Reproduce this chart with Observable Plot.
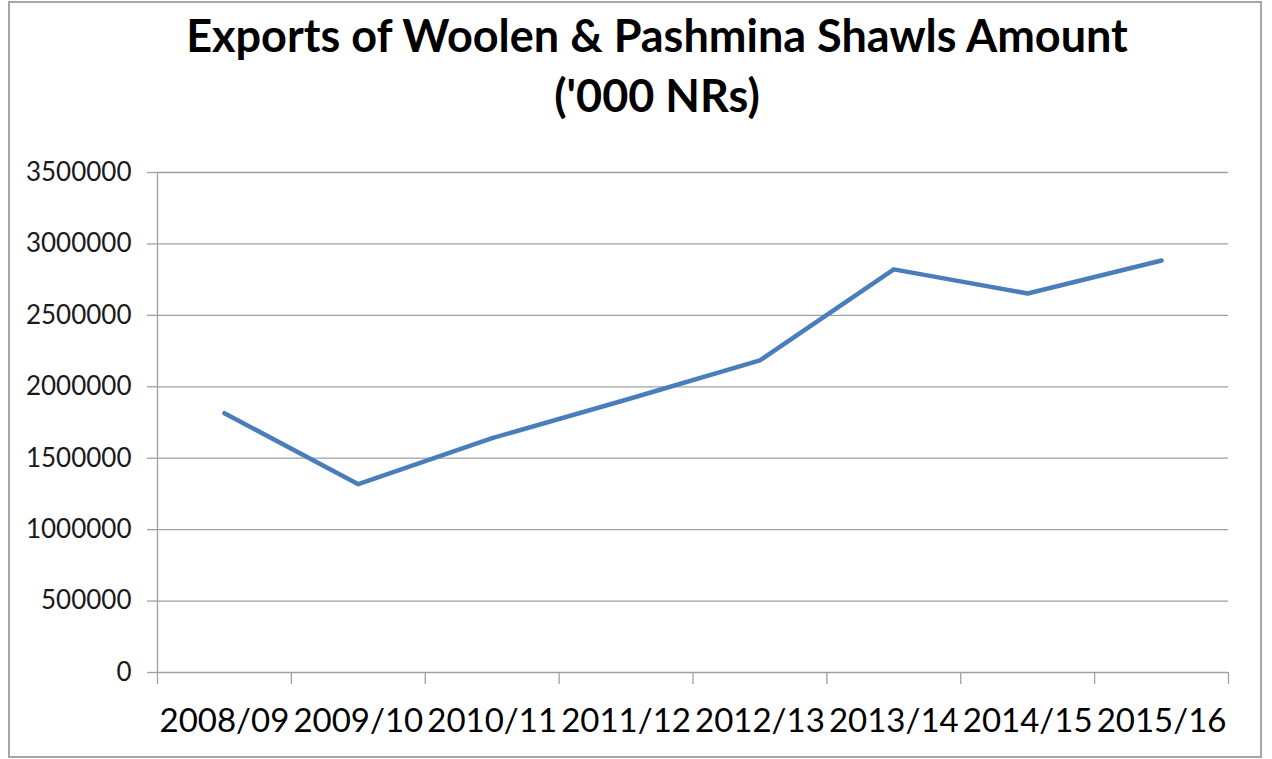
<!DOCTYPE html>
<html>
<head>
<meta charset="utf-8">
<script src="https://cdn.jsdelivr.net/npm/d3@7"></script>
<script src="https://cdn.jsdelivr.net/npm/@observablehq/plot@0.6"></script>
<style>
  html, body { margin: 0; padding: 0; background: #fff; }
  #wrap { position: relative; width: 1272px; height: 759px; overflow: hidden; font-family: Lato, "Open Sans", sans-serif; }
  #frame { position: absolute; left: 8px; top: 1px; width: 1250px; height: 753px; border: 2px solid #a6a6a6; pointer-events: none; }
  #title { height: 150px; box-sizing: border-box; padding-top: 5px; padding-left: 42px; text-align: center; font-weight: 700; font-size: 45px; line-height: 60px; color: #000; }
  #chart svg { display: block; overflow: visible; }
</style>
</head>
<body>
<div id="wrap">
  <div id="title">Exports of Woolen &amp; Pashmina Shawls Amount<br>('000 NRs)</div>
  <div id="chart"></div>
  <div id="frame"></div>
</div>
<script>
const categories = ["2008/09", "2009/10", "2010/11", "2011/12", "2012/13", "2013/14", "2014/15", "2015/16"];
const values = [1815000, 1318000, 1641000, 1909000, 2185000, 2822000, 2653000, 2884000];
const yTicks = [0, 500000, 1000000, 1500000, 2000000, 2500000, 3000000, 3500000];

const data = categories.map((c, i) => ({ i, category: c, value: values[i] }));
const indices = categories.map((_, i) => i);
const xDomain = [-0.5, categories.length - 0.5];
const boundaries = categories.map((_, i) => i - 0.5).concat([categories.length - 0.5]);
const gridColor = "#a0a0a0";

const chart = Plot.plot({
  width: 1272,
  height: 609,
  marginTop: 22,
  marginBottom: 87,
  marginLeft: 157,
  marginRight: 44,
  style: { fontFamily: "Lato, 'Open Sans', sans-serif", background: "transparent", overflow: "visible" },
  x: { type: "linear", domain: xDomain },
  y: { domain: [yTicks[0], yTicks[yTicks.length - 1]] },
  marks: [
    Plot.ruleY(yTicks, { stroke: gridColor, strokeWidth: 1.3 }),
    Plot.ruleX([xDomain[0]], { stroke: gridColor, strokeWidth: 1.3 }),
    Plot.axisY({ ticks: yTicks, tickSize: 10, tickPadding: 16, tickFormat: d => String(d), fontSize: 26, stroke: gridColor, strokeWidth: 1.3, fill: "#1a1a1a", label: null }),
    Plot.axisX({ ticks: boundaries, tickSize: 12, tickFormat: () => "", stroke: gridColor, strokeWidth: 1.3, label: null }),
    Plot.axisX({ ticks: indices, tickSize: 0, tickPadding: 36, tickFormat: i => categories[i], fontSize: 33, fill: "#000", label: null }),
    Plot.line(data, { x: "i", y: "value", stroke: "#4a7ebb", strokeWidth: 4.5, strokeLinecap: "round", strokeLinejoin: "round" })
  ]
});
document.getElementById("chart").appendChild(chart);
</script>
</body>
</html>
